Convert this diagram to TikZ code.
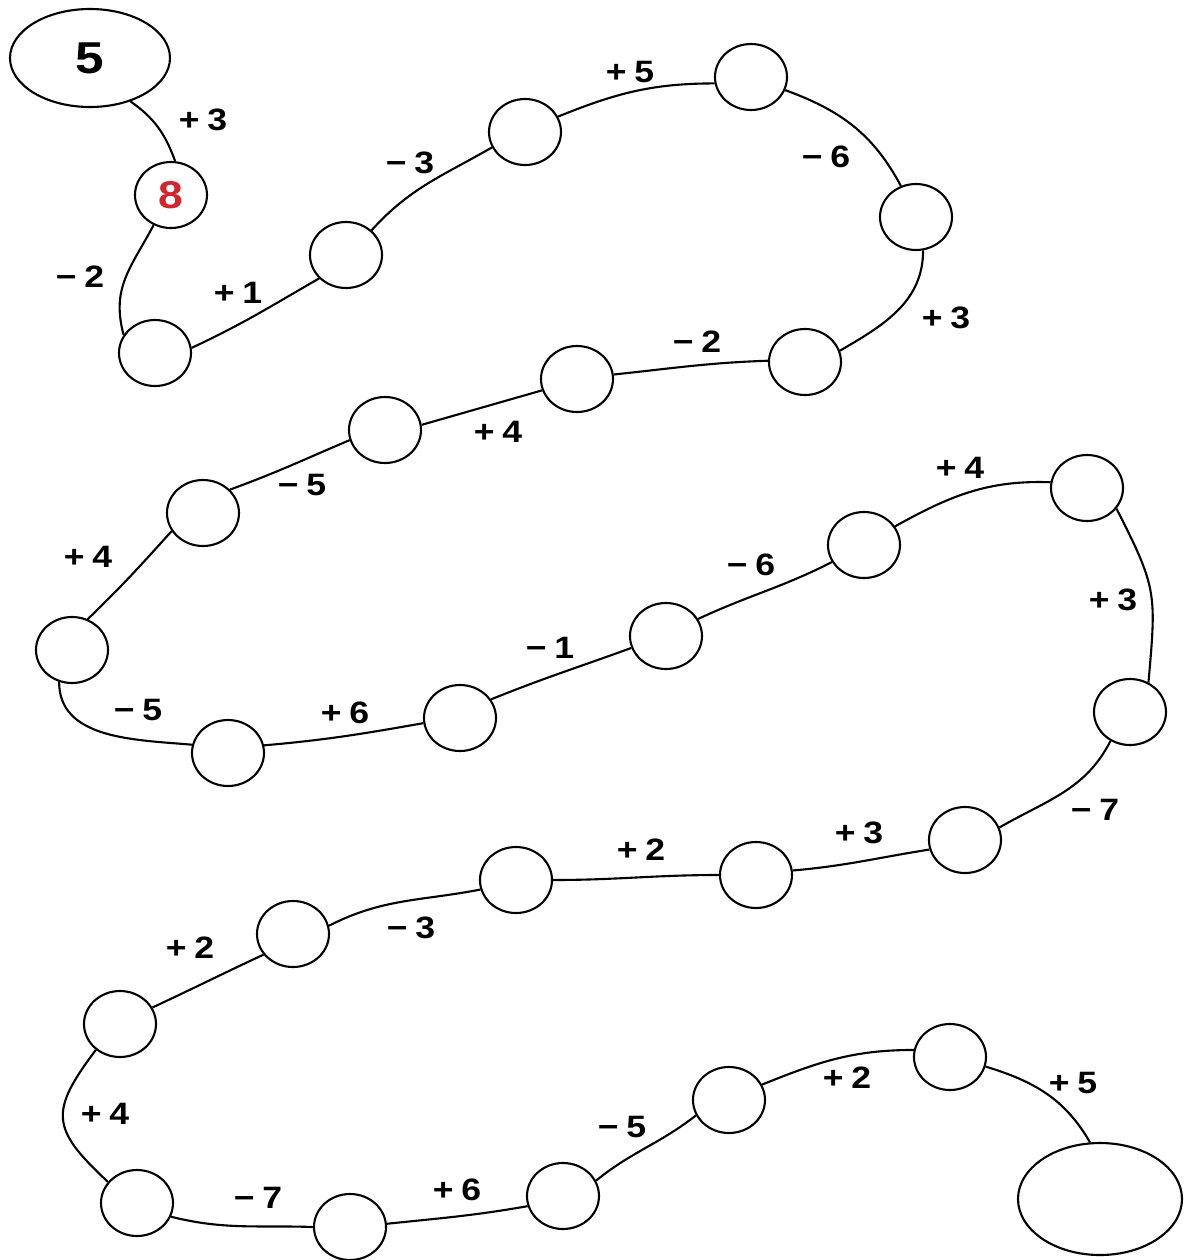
\documentclass[tikz,border=0pt]{standalone}
\usepackage{fontspec}
\setmainfont[FakeStretch=1.15]{Liberation Sans}
\usetikzlibrary{shapes.geometric}

\begin{document}
\begin{tikzpicture}[x=0.1mm,y=-0.1mm,
    bead/.style={ellipse,draw,line width=0.6pt,minimum width=7.2mm,minimum height=6.6mm,inner sep=0pt},
    hop/.style={font=\fontsize{8.8}{10}\selectfont\bfseries,inner sep=0pt},
    trail/.style={line width=0.6pt}]
    \definecolor{markRed}{HTML}{D3262C}
    \useasboundingbox (0,0) rectangle (1187,1260);
    \node[bead,minimum width=16mm,minimum height=9.8mm,font=\fontsize{12.7}{14}\selectfont\bfseries] (b0) at (90,58) {5};
    \node[bead,text=markRed,font=\fontsize{11}{12}\selectfont\bfseries] (b1) at (171,195) {8};
    \foreach \i/\x/\y in {
      2/155/353, 3/346/255, 4/525/132, 5/751/77, 6/916/217, 7/805/362,
      8/577/379, 9/385/430, 10/203/513, 11/72/650, 12/228/753, 13/460/718,
      14/666/636, 15/864/545, 16/1087/488, 17/1130/712, 18/965/840,
      19/756/875, 20/516/880, 21/293/934, 22/120/1024, 23/137/1203,
      24/350/1227, 25/563/1196, 26/729/1100, 27/950/1057} {
      \node[bead] (b\i) at (\x,\y) {};
    }
    \node[bead,minimum width=16.4mm,minimum height=11.2mm] (b28) at (1100,1199) {};
    % trail from bead to bead
    \foreach \a/\sa/\ao/\ai/\eb/\l in {
      0/-47/-35/110/83/1, 1/-120/-118/105/150/1.1, 2/8/25/-150/-139/1,
      3/44/48/-150/-155/1, 4/25/22/180/-170/1, 5/-21/-20/118/116/1,
      6/-78/-90/30/18/1, 7/178/182/6/7/1, 8/-162/-164/16/8/1,
      9/-164/-157/20/41/1, 10/-150/-132/44/63/1, 11/-112/-90/175/167/1,
      12/12/5/-170/-172/1, 13/31/22/-160/-161/1, 14/28/25/-153/-152/1,
      15/31/29/178/171/1, 16/-35/-63/85/58/1.3, 17/-124/-117/30/20/1,
      18/-165/-171/5/7/1, 19/180/180/0/0/1, 20/-165/-169/27/13/1,
      21/-145/-155/25/27/1, 22/-133/-127/137/144/1.5, 23/-22/-14/178/180/1,
      24/5/6/-170/-164/1, 25/25/39/-142/-155/1, 26/25/22/180/169/1,
      27/-15/-17/120/100/1} {
      \pgfmathtruncatemacro\nb{\a+1}
      \draw[trail] (b\a.\sa) to[out=\ao,in=\ai,looseness=\l] (b\nb.\eb);
    }
    \foreach \i/\x/\y/\s/\d in {
      0/203/120/+/3, 1/80/277/−/2, 2/238/293/+/1, 3/410/163/−/3,
      4/630/72/+/5, 5/826/157/−/6, 6/946/318/+/3, 7/697/342/−/2,
      8/498/432/+/4, 9/302/485/−/5, 10/88/557/+/4, 11/138/710/−/5,
      12/345/713/+/6, 13/550/648/−/1, 14/751/565/−/6, 15/960/468/+/4,
      16/1113/600/+/3, 17/1095/810/−/7, 18/859/833/+/3, 19/641/850/+/2,
      20/411/928/−/3, 21/190/948/+/2, 22/105/1114/+/4, 23/258/1198/−/7,
      24/457/1190/+/6, 25/622/1127/−/5, 26/847/1078/+/2, 27/1073/1083/+/5} {
      \node[hop] (l\i) at (\x,\y) {\s\hspace{0.25em}\d};
    }
\end{tikzpicture}
\end{document}
